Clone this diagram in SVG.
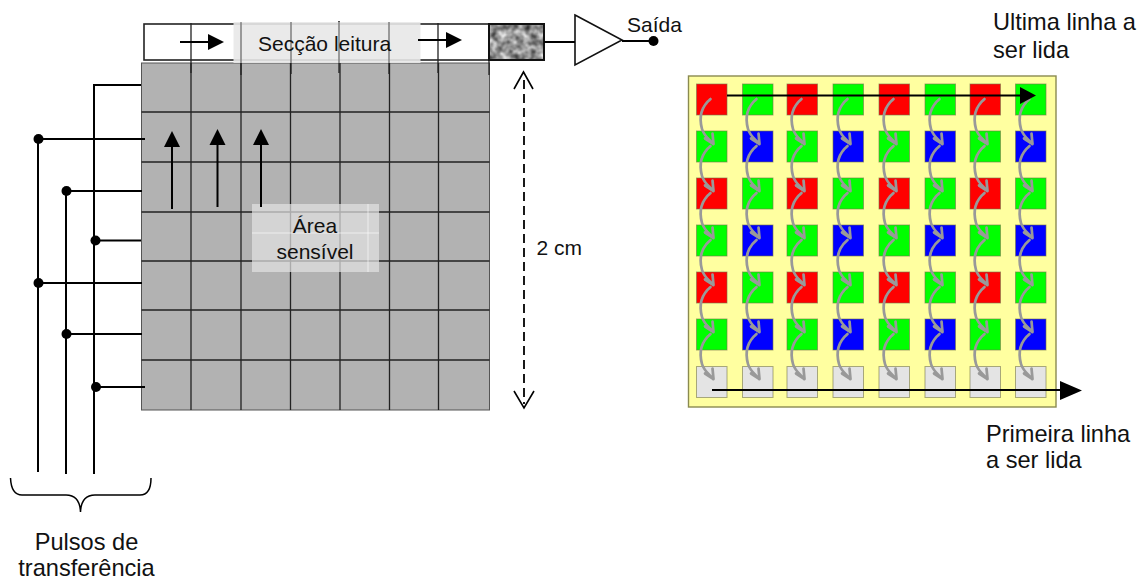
<svg xmlns="http://www.w3.org/2000/svg" width="1145" height="579" viewBox="0 0 1145 579">
<style>
text{font-family:"Liberation Sans",Arial,sans-serif;font-size:21px;fill:#111}
.big{font-size:23.6px}
.m{text-anchor:middle}
.w{fill:none;stroke:#000;stroke-width:2}
.g{fill:none;stroke:#222;stroke-width:1.3}
.h{fill:#000;stroke:none}
.sq{fill:none;stroke:#999;stroke-width:2.7;stroke-linecap:round;stroke-linejoin:round}
.R{fill:#ff0000}.G{fill:#00ff00}.B{fill:#0000ff}.N{fill:#e4e4e4}
.c{stroke:#77774a;stroke-width:1;stroke-opacity:.6}
</style>
<defs>
<filter id="noise" x="0" y="0" width="100%" height="100%" color-interpolation-filters="sRGB"><feTurbulence type="fractalNoise" baseFrequency="0.13" numOctaves="2" seed="7"/><feColorMatrix type="matrix" values="1 0 0 0 .09  1 0 0 0 .09  1 0 0 0 .09  0 0 0 0 1"/><feGaussianBlur stdDeviation=".6"/></filter>
<filter id="soft" x="-2%" y="-2%" width="104%" height="104%"><feGaussianBlur stdDeviation=".45"/></filter>
<g id="rowA"><rect class="R c" x="696.5" width="30.5" height="31"/><rect class="G c" x="742.5" width="30.5" height="31"/><rect class="R c" x="787" width="30.5" height="31"/><rect class="G c" x="833" width="30.5" height="31"/><rect class="R c" x="879" width="30.5" height="31"/><rect class="G c" x="925" width="30.5" height="31"/><rect class="R c" x="970" width="30.5" height="31"/><rect class="G c" x="1015.5" width="30.5" height="31"/></g>
<g id="rowB"><rect class="G c" x="696.5" width="30.5" height="31"/><rect class="B c" x="742.5" width="30.5" height="31"/><rect class="G c" x="787" width="30.5" height="31"/><rect class="B c" x="833" width="30.5" height="31"/><rect class="G c" x="879" width="30.5" height="31"/><rect class="B c" x="925" width="30.5" height="31"/><rect class="G c" x="970" width="30.5" height="31"/><rect class="B c" x="1015.5" width="30.5" height="31"/></g>
<g id="rowC"><rect class="N c" x="696.5" width="30.5" height="31"/><rect class="N c" x="742.5" width="30.5" height="31"/><rect class="N c" x="787" width="30.5" height="31"/><rect class="N c" x="833" width="30.5" height="31"/><rect class="N c" x="879" width="30.5" height="31"/><rect class="N c" x="925" width="30.5" height="31"/><rect class="N c" x="970" width="30.5" height="31"/><rect class="N c" x="1015.500" width="30.5" height="31"/></g>
<path id="sq" class="sq" d="M710.500 99C701 107 699 118 702 129C704 136 710 140 713 144M705 138.500L713.500 144L712.500 133.500"/>
<g id="sqcol"><use href="#sq"/><use href="#sq" y="47"/><use href="#sq" y="94"/><use href="#sq" y="141"/><use href="#sq" y="188"/><use href="#sq" y="235"/></g>
</defs>

<g id="area-sensivel">
<rect x="141.500" y="63" width="348" height="347" fill="#b2b2b2" stroke="#555" stroke-width="1"/>
<path class="g" d="M141.500 112H489.500M141.500 162H489.500M141.500 212H489.500M141.500 261H489.500M141.500 310H489.500M141.500 360H489.500"/>
<path class="g" d="M191 63V410M241 63V410M290.500 63V410M340 63V410M389.500 63V410M438.500 63V410"/>
</g>

<g id="seccao-leitura">
<rect x="144" y="24" width="345" height="36" fill="#fff" stroke="#222" stroke-width="1.600"/>
<path class="g" d="M191 23V73M241 23V75M291 22V74M339 21V73M389 22V74M438 23V73M489 23V75"/>
<rect x="233.500" y="22" width="187" height="41" fill="#e8e8e8" fill-opacity=".9"/>
<path class="g" d="M241 22V63M291 22V63M339 21V63M389 22V63" stroke-opacity=".55"/>
<rect x="489" y="24" width="55" height="36" filter="url(#noise)"/>
<rect x="489" y="24" width="55" height="36" fill="none" stroke="#111" stroke-width="2"/>
<text x="258" y="51">Secção leitura</text>
</g>

<g id="amplificador">
<path d="M575 15L622 40L575 65Z" fill="#fff" stroke="#111" stroke-width="1.600"/>
<circle cx="653.500" cy="41" r="5" fill="#000"/>
<text x="627" y="32">Saída</text>
</g>

<g id="area-label">
<rect x="252" y="204" width="127" height="68" fill="#e0e0e0" fill-opacity=".72"/>
<path d="M252 233H379M368 204V272" fill="none" stroke="#fff" stroke-opacity=".6" stroke-width="1"/>
<text class="m" x="315" y="233">Área</text>
<text class="m" x="315" y="259">sensível</text>
</g>

<g id="sensor">
<rect x="688.500" y="76" width="367.500" height="331" fill="#ffffa0" stroke="#8a8a50" stroke-width="1.400"/>
<g filter="url(#soft)">
<use href="#rowA" y="84"/><use href="#rowB" y="131"/><use href="#rowA" y="178"/><use href="#rowB" y="225"/><use href="#rowA" y="272"/><use href="#rowB" y="319"/><use href="#rowC" y="366.500"/>
<use href="#sqcol"/><use href="#sqcol" x="46"/><use href="#sqcol" x="91"/><use href="#sqcol" x="137"/><use href="#sqcol" x="183"/><use href="#sqcol" x="229"/><use href="#sqcol" x="274"/><use href="#sqcol" x="319"/>
</g>
</g>

<g id="connectors">
<path class="w" d="M544 42H575M622 41H653"/>
<path class="w" d="M94 474V85H141"/>
<path class="w" d="M38 472V139H145M38 283H142M66 474V191H142M66 334H142M94 240.500H141M94 387H145"/>
<circle cx="38.500" cy="139" r="5" class="h"/><circle cx="66.500" cy="191" r="5" class="h"/><circle cx="95.500" cy="240.500" r="5" class="h"/><circle cx="38.500" cy="283" r="5" class="h"/><circle cx="66.500" cy="334" r="5" class="h"/><circle cx="96" cy="387" r="5" class="h"/>
<path class="w" d="M180 42H210M418 40H448"/>
<path class="h" d="M208 34L224 42L208 50ZM446 32L462 40L446 48Z"/>
<path class="w" d="M172 209V145M217.500 207V143M261 207V143"/>
<path class="h" d="M172 131L180 147H164ZM217.500 129L225.500 145H209.500ZM261 129L269 145H253Z"/>
<path d="M524 80V404" fill="none" stroke="#000" stroke-width="1.800" stroke-dasharray="9 5"/>
<path fill="none" stroke="#000" stroke-width="1.600" d="M514 89L523.500 72L533 89M514 391L524 408L534 391"/>
<path class="w" d="M727 95.500H1022M712 390H1062"/>
<path class="h" d="M1020 87L1036 95.500L1020 104ZM1060 381L1082 390.500L1060 400Z"/>
<path fill="none" stroke="#000" stroke-width="1.500" d="M10.500 478C11 489 14 495 22 495H66C75 495 80 500 80.500 512C81 500 86 495 95 495H140C148 495 151 489 151 478"/>
</g>

<g id="labels">
<text x="536.500" y="255">2 cm</text>
<text class="big" x="993" y="30">Ultima linha a</text>
<text class="big" x="993" y="58">ser lida</text>
<text class="big" x="986" y="442">Primeira linha</text>
<text class="big" x="986" y="468">a ser lida</text>
<text class="big m" x="86.500" y="550">Pulsos de</text>
<text class="big m" x="86.500" y="576">transferência</text>
</g>
</svg>
